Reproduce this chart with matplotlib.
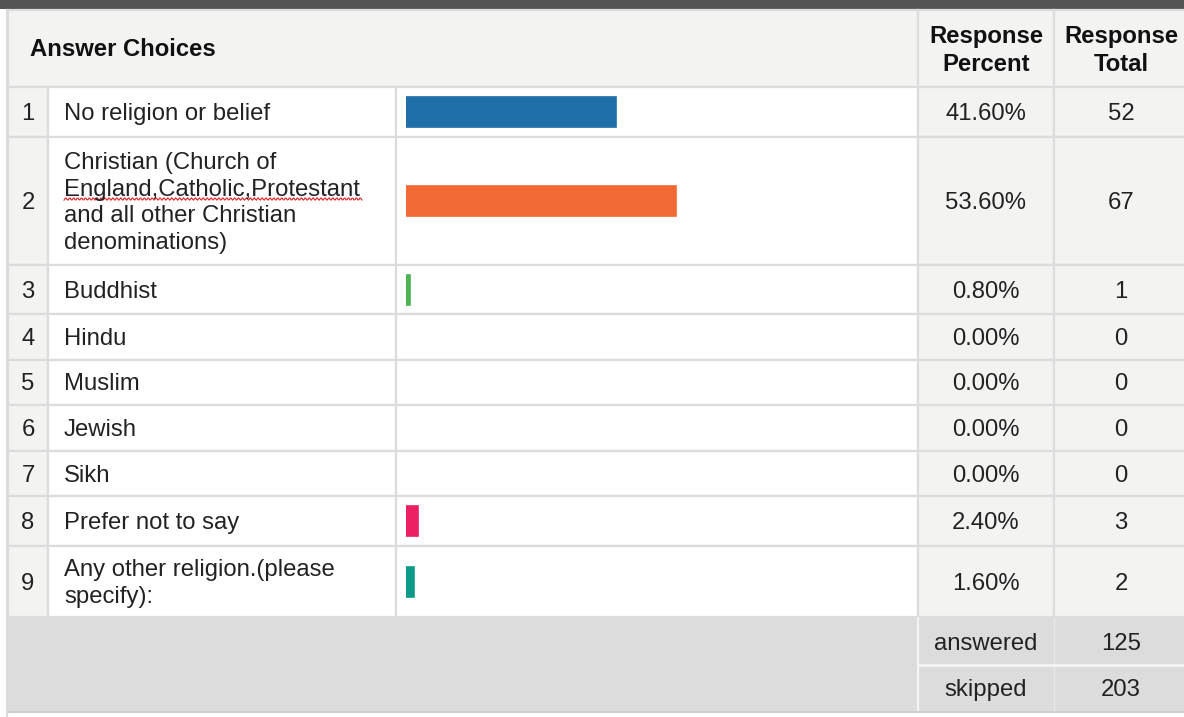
import matplotlib
matplotlib.use("Agg")
import numpy as np
import matplotlib.pyplot as plt
from matplotlib.patches import Rectangle

choices = ["No religion or belief",
           "Christian (Church of\nEngland,Catholic,Protestant\nand all other Christian\ndenominations)",
           "Buddhist", "Hindu", "Muslim", "Jewish", "Sikh",
           "Prefer not to say",
           "Any other religion.(please\nspecify):"]
percents = [41.60, 53.60, 0.80, 0.00, 0.00, 0.00, 0.00, 2.40, 1.60]
totals = [52, 67, 1, 0, 0, 0, 0, 3, 2]
bar_colors = ["#1f70a8", "#f26a33", "#4cb552", "#999999", "#999999",
              "#999999", "#999999", "#ec1f63", "#0e9a88"]
answered = 125
skipped = 203

# layout (pixels)
W, H = 1184, 717
row_edges = [87, 137, 265, 314, 360, 405, 451, 496, 546, 617]
col_x = [8, 48, 396, 918, 1054, 1184]
LINE = "#dcdcdc"
CELL = "#f3f3f2"
FONT = "Liberation Sans"
FS = 17.2
LS = 1.26

fig = plt.figure(figsize=(W / 100, H / 100), dpi=100)
ax = fig.add_axes([0, 0, 1, 1])
ax.set_xlim(0, W)
ax.set_ylim(H, 0)
ax.axis("off")

def cell(x0, y0, x1, y1, fc):
    ax.add_patch(Rectangle((x0, y0), x1 - x0, y1 - y0, facecolor=fc,
                           edgecolor=LINE, linewidth=1.6))

# top dark strip
ax.add_patch(Rectangle((0, 0), W, 9, facecolor="#545454", edgecolor="none"))

# header
cell(col_x[0], 10, col_x[3], row_edges[0], CELL)
cell(col_x[3], 10, col_x[4], row_edges[0], CELL)
cell(col_x[4], 10, W + 5, row_edges[0], CELL)
hy = (10 + row_edges[0]) / 2
ax.text(30, hy + 1, "Answer Choices", ha="left", va="center", fontsize=FS,
        fontweight="bold", family=FONT, color="#111111")
ax.text((col_x[3] + col_x[4]) / 2, hy + 2, "Response\nPercent", ha="center", va="center",
        fontsize=FS, fontweight="bold", family=FONT, color="#111111", linespacing=LS)
ax.text((col_x[4] + W) / 2 + 2, hy + 2, "Response\nTotal", ha="center", va="center",
        fontsize=FS, fontweight="bold", family=FONT, color="#111111", linespacing=LS)

# body rows
for i, (c, p, t) in enumerate(zip(choices, percents, totals)):
    y0, y1 = row_edges[i], row_edges[i + 1]
    ym = (y0 + y1) / 2 + 2
    cell(col_x[0], y0, col_x[1], y1, CELL)
    cell(col_x[1], y0, col_x[2], y1, "white")
    cell(col_x[2], y0, col_x[3], y1, "white")
    cell(col_x[3], y0, col_x[4], y1, CELL)
    cell(col_x[4], y0, W + 5, y1, CELL)
    ax.text((col_x[0] + col_x[1]) / 2, ym, str(i + 1), ha="center", va="center",
            fontsize=FS, family=FONT, color="#222222")
    ax.text(64, ym, c, ha="left", va="center", fontsize=FS, family=FONT,
            color="#222222", linespacing=LS)
    ax.text((col_x[3] + col_x[4]) / 2, ym, "%.2f%%" % p, ha="center", va="center",
            fontsize=FS, family=FONT, color="#222222")
    ax.text((col_x[4] + W) / 2 + 2, ym, str(t), ha="center", va="center",
            fontsize=FS, family=FONT, color="#222222")

# spell-check squiggle under second line of row 2
sx = np.linspace(64, 362, 300)
ax.plot(sx, 199 + 1.2 * np.sin(sx * 1.6), color="#e02020", linewidth=0.8)

# footer
fy0, fy1, fmid = row_edges[-1] + 1, 711, 665
ax.add_patch(Rectangle((col_x[0], fy0), W - col_x[0] + 5, fy1 - fy0,
                       facecolor="#dcdcdc", edgecolor="none"))
ax.plot([col_x[3], col_x[3]], [fy0, fy1], color="#f4f4f4", linewidth=1.5)
ax.plot([col_x[4], col_x[4]], [fy0, fy1], color="#e8e8e8", linewidth=1.0)
ax.plot([col_x[3], W], [fmid, fmid], color="#f4f4f4", linewidth=2)
ax.plot([col_x[0], W], [fy1 + 1, fy1 + 1], color="#cfcfcf", linewidth=1.5)
ax.plot([7, 7], [10, H], color=LINE, linewidth=1.5)
for lab, val, ya, yb in [("answered", answered, fy0, fmid), ("skipped", skipped, fmid, fy1)]:
    ym = (ya + yb) / 2 + 2
    ax.text((col_x[3] + col_x[4]) / 2, ym, lab, ha="center", va="center",
            fontsize=FS, family=FONT, color="#222222")
    ax.text((col_x[4] + W) / 2 + 2, ym, str(val), ha="center", va="center",
            fontsize=FS, family=FONT, color="#222222")

# bars in their own axes: 0-100 % across the bar column
bx0, bx1 = 406, 910
bax = fig.add_axes([bx0 / W, 0, (bx1 - bx0) / W, 1])
bax.set_xlim(0, 100)
bax.set_ylim(H, 0)
bax.axis("off")
centers = [(row_edges[i] + row_edges[i + 1]) / 2 for i in range(len(percents))]
edge_w = [1.2 if p > 0 else 0 for p in percents]
bax.barh(centers, percents, height=30, color=bar_colors, edgecolor=bar_colors,
         linewidth=edge_w, align="center")

fig.savefig("out.png", dpi=100)
